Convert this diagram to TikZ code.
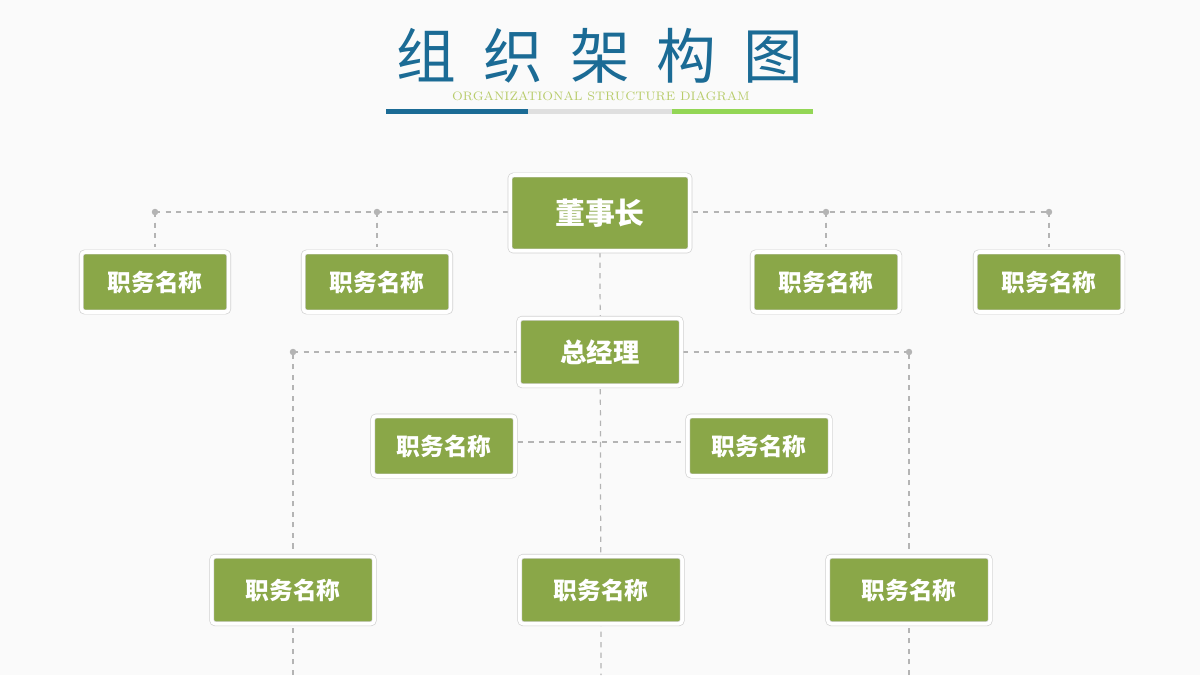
\documentclass[tikz,border=0pt]{standalone}
\usepackage{fontspec}
\newfontfamily\cjk{Noto Sans CJK SC}
\usetikzlibrary{positioning}
\definecolor{boxgreen}{HTML}{8AA748}
\definecolor{titleblue}{HTML}{1B6B95}
\definecolor{subgreen}{HTML}{B8CC6A}
\definecolor{linegray}{HTML}{B4B4B4}

\tikzset {
    post/.style={rectangle, rounded corners=2pt, fill=boxgreen, text=white,
        draw=gray!35, double=white, double distance=2pt,
        font=\cjk\bfseries\fontsize{13.5}{15}\selectfont,
        minimum width=2.95cm, minimum height=1.2cm},
    link/.style={draw=linegray, dashed, line width=0.7pt},
    dot/.style={circle, fill=linegray, inner sep=1.3pt},
}

\begin{document}
\begin{tikzpicture}[x=0.02cm, y=-0.02cm]
    \fill [gray!4] (0, 0) rectangle (1200, 675);
    % title
    \node (title) at (600, 56) [text=titleblue, font=\cjk\fontsize{34}{38}\selectfont] {组\hspace{0.45em}织\hspace{0.45em}架\hspace{0.45em}构\hspace{0.45em}图};
    \node (sub) at (601, 96) [text=subgreen, font=\fontsize{7}{8}\selectfont] {\addfontfeature{LetterSpace=62}ORGANIZATIONAL STRUCTURE DIAGRAM};
    \fill [titleblue] (386, 109) rectangle (528, 114);
    \fill [gray!25] (528, 109) rectangle (672, 114);
    \fill [subgreen!80!green] (672, 109) rectangle (813, 114);
    % coordinates for connectors
    \coordinate (l1) at (155, 212);
    \coordinate (l2) at (377, 212);
    \coordinate (r1) at (826, 212);
    \coordinate (r2) at (1049, 212);
    \coordinate (ml) at (293, 352);
    \coordinate (mr) at (909, 352);
    \coordinate (eb) at (293, 675);
    \coordinate (ec) at (601, 675);
    \coordinate (ed) at (909, 675);
    % connectors
    \draw [link] (l1) -- (r2);
    \draw [link] (ml) -- (mr);
    \draw [link] (eb) -- (ml);
    \draw [link] (ed) -- (mr);
    \draw [link] (600, 252) -- (ec);
    \draw [link] (l1) -- ++(0, 35);
    \draw [link] (l2) -- ++(0, 35);
    \draw [link] (r1) -- ++(0, 35);
    \draw [link] (r2) -- ++(0, 35);
    \draw [link] (444, 442) -- (759, 442);
    \foreach \p in {l1, l2, r1, r2, ml, mr} {
        \node at (\p) [dot] {};
    }
    % posts
    \node (chair) at (600, 213) [post, minimum width=3.6cm, minimum height=1.52cm,
        font=\cjk\bfseries\fontsize{17}{19}\selectfont] {董事长};
    \node (pa) at (155, 282) [post] {职务名称};
    \node (pb) at (377, 282) [post] {职务名称};
    \node (pc) at (826, 282) [post] {职务名称};
    \node (pd) at (1049, 282) [post] {职务名称};
    \node (gm) at (600, 352) [post, minimum width=3.25cm, minimum height=1.35cm,
        font=\cjk\bfseries\fontsize{15}{17}\selectfont] {总经理};
    \node (ma) at (444, 446) [post, minimum width=2.85cm] {职务名称};
    \node (mb) at (759, 446) [post, minimum width=2.85cm] {职务名称};
    \node (ba) at (293, 590) [post, minimum width=3.25cm, minimum height=1.35cm] {职务名称};
    \node (bb) at (601, 590) [post, minimum width=3.25cm, minimum height=1.35cm] {职务名称};
    \node (bc) at (909, 590) [post, minimum width=3.25cm, minimum height=1.35cm] {职务名称};
\end{tikzpicture}
\end{document}
